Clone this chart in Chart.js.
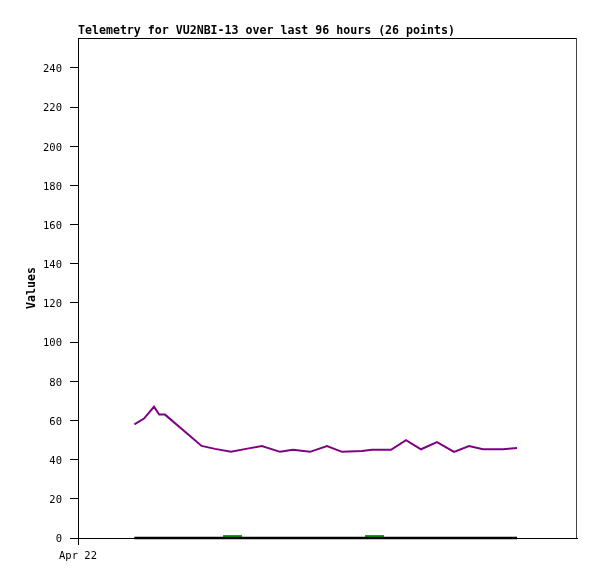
<!DOCTYPE html>
<html>
<head>
<meta charset="utf-8">
<script src="https://cdn.jsdelivr.net/npm/chart.js@4/dist/chart.umd.min.js"></script>
<style>
html,body{margin:0;padding:0;background:#fff;}
canvas{display:block;}
</style>
</head>
<body>
<canvas id="c" width="597" height="579"></canvas>
<script>
// Hours since Apr 22 00:00
const times = [14.1, 16.5, 19.0, 20.3, 21.75, 30.9, 34.25, 38.25, 42, 46, 50.5, 53.75, 58, 62.25, 66, 71, 73.5, 78.25, 82, 85.75, 89.75, 94, 97.75, 101.25, 106.25, 109.75];
const purpleValues = [58, 61, 67, 63, 63, 47, 45.5, 44, 45.5, 47, 44, 45, 44, 47, 44, 44.4, 45, 45, 50, 45.3, 49, 44, 47, 45.3, 45.3, 46];
const blackValues = [0,0,0,0,0,0,0,0,0,0,0,0,0,0,0,0,0,0,0,0,0,0,0,0,0,0];
const greenTimes = [14.1, 36.5, 36.5, 40.75, 40.75, 72, 72, 76.25, 76.25, 109.75];
const greenValues = [0, 0, 1, 1, 0, 0, 1, 1, 0, 0];
const xTickValues = [0];
const xTickLabels = ['Apr 22'];
const yTicks = [0, 20, 40, 60, 80, 100, 120, 140, 160, 180, 200, 220, 240];
const titleText = 'Telemetry for VU2NBI-13 over last 96 hours (26 points)';
const yTitle = 'Values';

const toXY = (xs, ys) => xs.map((x, i) => ({x: x, y: ys[i]}));

const frame = {
  id: 'frame',
  afterDraw(chart) {
    const a = chart.chartArea, ctx = chart.ctx;
    ctx.save();
    ctx.lineWidth = 1;
    ctx.strokeStyle = '#000';
    ctx.beginPath();
    ctx.moveTo(a.left, a.top + 0.5);
    ctx.lineTo(a.right, a.top + 0.5);
    ctx.stroke();
    ctx.strokeStyle = '#444';
    ctx.beginPath();
    ctx.moveTo(a.right - 0.5, a.top);
    ctx.lineTo(a.right - 0.5, a.bottom);
    ctx.stroke();
    ctx.restore();
  }
};

const mono = "'DejaVu Sans Mono', monospace";

new Chart(document.getElementById('c'), {
  type: 'line',
  data: {
    datasets: [
      {data: toXY(times, purpleValues), borderColor: '#800080', borderWidth: 2, pointRadius: 0, tension: 0, clip: false},
      {data: toXY(times, blackValues), borderColor: '#000000', borderWidth: 2.5, pointRadius: 0, tension: 0, clip: false},
      {data: toXY(greenTimes, greenValues), borderColor: '#00b000', borderWidth: 2, pointRadius: 0, tension: 0, clip: false}
    ]
  },
  plugins: [frame],
  options: {
    responsive: false,
    animation: false,
    devicePixelRatio: 1,
    layout: {padding: {left: 0, right: 20, top: 0, bottom: 0}},
    plugins: {
      legend: {display: false},
      tooltip: {enabled: false},
      title: {
        display: true,
        text: titleText,
        align: 'start',
        fullSize: false,
        color: '#000',
        font: {family: mono, size: 11.6, weight: 'bold', lineHeight: 1.0},
        padding: {top: 25, bottom: 1.4}
      }
    },
    scales: {
      x: {
        type: 'linear',
        min: 0,
        max: 124.75,
        afterBuildTicks(s) { s.ticks = xTickValues.map(v => ({value: v})); },
        afterFit(s) { s.height = 41; },
        ticks: {
          color: '#000',
          font: {family: mono, size: 10.5},
          padding: 5,
          maxRotation: 0,
          autoSkip: false,
          callback(v) { const i = xTickValues.indexOf(v); return i >= 0 ? xTickLabels[i] : ''; }
        },
        grid: {drawOnChartArea: false, drawTicks: true, tickLength: 7, color: '#000'},
        border: {display: true, color: '#000', width: 1}
      },
      y: {
        type: 'linear',
        min: 0,
        max: 255.3,
        afterBuildTicks(s) { s.ticks = yTicks.map(v => ({value: v})); },
        afterFit(s) { s.width = 78; },
        ticks: {color: '#000', font: {family: mono, size: 10.5}, padding: 8, labelOffset: 1.5, autoSkip: false},
        grid: {drawOnChartArea: false, drawTicks: true, tickLength: 8, color: '#000'},
        border: {display: true, color: '#000', width: 1},
        title: {
          display: true,
          text: yTitle,
          color: '#000',
          font: {family: mono, size: 11.6, weight: 'bold', lineHeight: 1.2},
          padding: {top: 25.5, bottom: 0}
        }
      }
    }
  }
});
</script>
</body>
</html>
